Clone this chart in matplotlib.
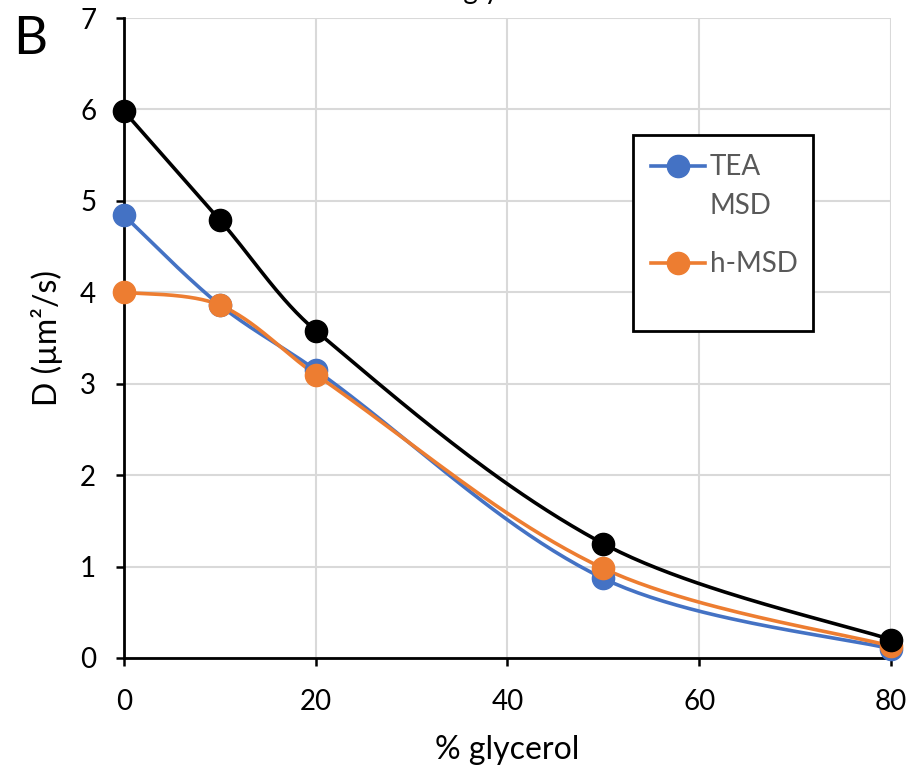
import numpy as np
import matplotlib
matplotlib.use("Agg")
import matplotlib.pyplot as plt
from matplotlib.lines import Line2D
from matplotlib.patches import Rectangle

# ---- data ----
glycerol = [0, 10, 20, 50, 80]
d_total = [5.98, 4.79, 3.58, 1.25, 0.20]
d_tea_msd = [4.84, 3.86, 3.15, 0.87, 0.10]
d_h_msd = [4.00, 3.86, 3.10, 0.98, 0.13]
x_ticks = [0, 20, 40, 60, 80]
y_ticks = [0, 1, 2, 3, 4, 5, 6, 7]

plt.rcParams['font.family'] = ['Lato', 'DejaVu Sans']

W, H = 911, 773
fig = plt.figure(figsize=(W / 100, H / 100), dpi=100)
ax = fig.add_axes([124 / W, 1 - 658 / H, (891 - 124) / W, (658 - 18) / H])

SX = (891 - 124) / 80.0   # px per x unit
SY = (658 - 18) / 7.0     # px per y unit


def smooth(xs, ys, n=50):
    """Smoothed line: Bezier segments with chord-length weighted tangents (screen space)."""
    P = np.column_stack([np.asarray(xs, float) * SX, np.asarray(ys, float) * SY])
    m = len(P)
    out = []
    for i in range(m - 1):
        p0 = P[i - 1] if i > 0 else P[i]
        p1 = P[i]
        p2 = P[i + 1]
        p3 = P[i + 2] if i + 2 < m else P[i + 1]
        d01 = np.linalg.norm(p1 - p0)
        d12 = np.linalg.norm(p2 - p1)
        d23 = np.linalg.norm(p3 - p2)
        w1 = d12 / (d01 + d12) / 3 if d01 > 0 else 1 / 6
        w2 = d12 / (d12 + d23) / 3 if d23 > 0 else 1 / 6
        c1 = p1 + (p2 - p0) * w1
        c2 = p2 - (p3 - p1) * w2
        t = np.linspace(0, 1, n)[:, None]
        seg = ((1 - t) ** 3) * p1 + 3 * ((1 - t) ** 2) * t * c1 + 3 * (1 - t) * t ** 2 * c2 + t ** 3 * p2
        out.append(seg if i == 0 else seg[1:])
    s = np.vstack(out)
    return s[:, 0] / SX, s[:, 1] / SY


series = [
    (d_tea_msd, '#4472C4'),
    (d_h_msd, '#ED7D31'),
    (d_total, '#000000'),
]
for ys, col in series:
    sx, sy = smooth(glycerol, ys)
    ax.plot(sx, sy, color=col, lw=2.6, clip_on=False, zorder=3, solid_capstyle='round')
    ax.plot(glycerol, ys, 'o', color=col, ms=16, mec=col, clip_on=False, zorder=4)

ax.set_xlim(0, 80)
ax.set_ylim(0, 7)
ax.set_xticks(x_ticks)
ax.set_yticks(y_ticks)
ax.grid(True, color='#d9d9d9', lw=1.5, zorder=0)
ax.set_axisbelow(True)
for s in ['top', 'right']:
    ax.spines[s].set_visible(False)
for s in ['left', 'bottom']:
    ax.spines[s].set_linewidth(2)
    ax.spines[s].set_color('black')
    ax.spines[s].set_zorder(2)
ax.tick_params(axis='both', direction='out', length=6, width=1.8, labelsize=20, colors='black')
ax.tick_params(axis='y', pad=14)
ax.tick_params(axis='x', pad=16)

ax.set_xlabel('% glycerol', fontsize=23, labelpad=15)
ax.set_ylabel('D (µm²/s)', fontsize=23, labelpad=12)

# panel letter
fig.text(13 / W, 1 - 54 / H, 'B', fontsize=38, ha='left', va='baseline')
# cut-off title at the very top
fig.text(497 / W, 1 + 1 / H, '% glycerol', fontsize=20, ha='center', va='baseline')


# legend (drawn manually, Excel style)
def fx(px):
    return px / W


def fy(py):
    return 1 - py / H


fig.patches.append(Rectangle((fx(633), fy(331)), fx(813) - fx(633), fy(135) - fy(331),
                             transform=fig.transFigure, fill=True, facecolor='white',
                             edgecolor='black', lw=2, zorder=10))
leg_items = [('TEA\nMSD', '#4472C4', 166), ('h-MSD', '#ED7D31', 263)]
for label, col, yy in leg_items:
    fig.lines.append(Line2D([fx(651), fx(705)], [fy(yy), fy(yy)], transform=fig.transFigure,
                            color=col, lw=2.6, zorder=11))
    fig.lines.append(Line2D([fx(678)], [fy(yy)], transform=fig.transFigure, marker='o',
                            color=col, ms=16, zorder=12))
    fig.text(fx(710), fy(yy - 12), label, fontsize=20, color='#595959', ha='left', va='top',
             linespacing=1.6, zorder=12)

fig.savefig('out.png', dpi=100)
